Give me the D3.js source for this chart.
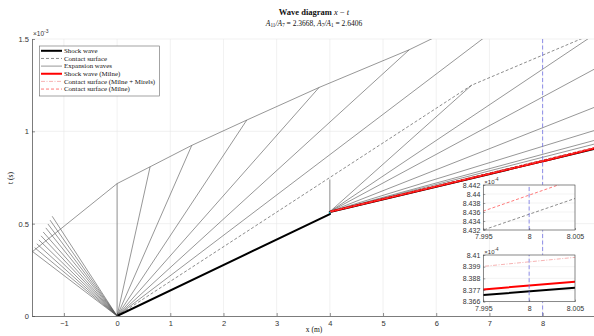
<!DOCTYPE html>
<html>
<head>
<meta charset="utf-8">
<script src="https://cdn.jsdelivr.net/npm/d3@7"></script>
<style>
  body { margin: 0; background: #fff; }
  svg { display: block; }
  .tick text { font-family: "Liberation Sans", Arial, sans-serif; fill: #333; }
  .serif { font-family: "Liberation Serif", "DejaVu Serif", serif; fill: #111; }
</style>
</head>
<body>
<svg id="chart" width="594" height="336"></svg>
<script>
// --- data (x in m, t in 1e-3 s) ---
const xTicks = [-1, 0, 1, 2, 3, 4, 5, 6, 7, 8];
const yTicks = [0, 0.5, 1, 1.5];
const yTickLabels = ["0", "0.5", "1", "1.5"];

// expansion fan going left from the diaphragm, end points of each ray
const leftFanEnds = [
  [-1.59, 0.349], [-1.55, 0.370], [-1.51, 0.391], [-1.47, 0.412], [-1.43, 0.434],
  [-1.39, 0.455], [-1.34, 0.477], [-1.30, 0.498], [-1.26, 0.519], [-1.22, 0.540]
];
// reflected head of the fan
const envelope = [
  [-1.59, 0.349], [0, 0.717], [0.62, 0.808], [1.404, 0.924], [2.438, 1.061],
  [3.797, 1.2375], [5.494, 1.442], [6.05, 1.52]
];
// rays from the origin going right
const rightFanEnds = [
  [0, 0.717], [0.62, 0.808], [1.404, 0.924], [2.438, 1.061], [3.797, 1.2375],
  [5.494, 1.442], [6.9, 1.507]
];
// expansion rays from the area change at x = 4
const areaOrigin = [4, 0.565];
const areaFanEnds = [
  [4, 0.739], [6.667, 1.25], [8.9, 1.51], [9, 1.341], [9, 1.133],
  [9, 1.007], [9, 0.953], [9, 0.933]
];

const shockWave = [[0, 0], [4, 0.552], [4, 0.563], [7.995, 0.83723], [8.005, 0.83792], [9, 0.907]];
const shockMilne = [[4, 0.565], [7.995, 0.83776], [8.005, 0.83848], [9, 0.909]];
const contactMain = [[0, 0], [6.667, 1.25], [8.8, 1.51]];
const contactSecond = [[4, 0.565], [7.995, 0.8432], [8.005, 0.8439], [9, 0.913]];
const contactMilneMirels = [[4, 0.565], [7.995, 0.83993], [8.005, 0.84078], [9, 0.912]];
const contactMilne = [[4, 0.565], [7.995, 0.84362], [8.005, 0.84433], [9, 0.915]];
const probeX = 8;

const legendLabels = [
  "Shock wave", "Contact surface", "Expansion waves", "Shock wave (Milne)",
  "Contact surface (Milne + Mirels)", "Contact surface (Milne)"
];

// inset tick values (t in 1e-4 s)
const insetXTicks = [7.995, 8, 8.005];
const inset1YTicks = [8.432, 8.434, 8.436, 8.438, 8.44, 8.442];
const inset2YTicks = [8.366, 8.377, 8.388, 8.399, 8.41];

// --- styles ---
const styles = {
  exp:    { stroke: "#505050", width: 0.6, dash: null },
  contact:{ stroke: "#404040", width: 0.6, dash: "3,2" },
  shock:  { stroke: "#000", width: 2, dash: null },
  milne:  { stroke: "#ff0000", width: 2, dash: null },
  mirels: { stroke: "#f08080", width: 0.6, dash: "4,1.5,1,1.5" },
  cmilne: { stroke: "#ff2020", width: 0.6, dash: "3,2" },
  probe:  { stroke: "#7474e4", width: 0.8, dash: "4,2.5" }
};

const svg = d3.select("#chart");
const pLeft = 32, pRight = 595.8, pTop = 39, pBottom = 316;
const x = d3.scaleLinear().domain([-1.6, 9]).range([pLeft, pRight]);
const y = d3.scaleLinear().domain([0, 1.5]).range([pBottom, pTop]);

const defs = svg.append("defs");
defs.append("clipPath").attr("id", "clipMain")
  .append("rect").attr("x", pLeft).attr("y", pTop).attr("width", pRight - pLeft).attr("height", pBottom - pTop);

// grid
const grid = svg.append("g").attr("stroke", "#e8e8e8").attr("stroke-width", 0.6);
xTicks.forEach(v => grid.append("line").attr("x1", x(v)).attr("x2", x(v)).attr("y1", pTop).attr("y2", pBottom));
yTicks.slice(1).forEach(v => grid.append("line").attr("x1", pLeft).attr("x2", pRight).attr("y1", y(v)).attr("y2", y(v)));

function drawPath(g, pts, st, sx, sy) {
  const line = d3.line().x(d => sx(d[0])).y(d => sy(d[1]));
  g.append("path").attr("d", line(pts)).attr("fill", "none")
    .attr("stroke", st.stroke).attr("stroke-width", st.width)
    .attr("stroke-dasharray", st.dash);
}

function drawSeries(g, sx, sy, yFactor, withFans) {
  const sc = v => sy(v * yFactor);
  if (withFans) {
    leftFanEnds.forEach(e => drawPath(g, [[0, 0], e], styles.exp, sx, sc));
    drawPath(g, envelope, styles.exp, sx, sc);
    rightFanEnds.forEach(e => drawPath(g, [[0, 0], e], styles.exp, sx, sc));
    areaFanEnds.forEach(e => drawPath(g, [areaOrigin, e], styles.exp, sx, sc));
    drawPath(g, contactMain, styles.contact, sx, sc);
  }
  drawPath(g, contactSecond, styles.contact, sx, sc);
  drawPath(g, shockWave, styles.shock, sx, sc);
  drawPath(g, shockMilne, styles.milne, sx, sc);
  drawPath(g, contactMilneMirels, styles.mirels, sx, sc);
  drawPath(g, contactMilne, styles.cmilne, sx, sc);
  const [t0, t1] = sy.domain();
  drawPath(g, [[probeX, t0 / yFactor], [probeX, t1 / yFactor]], styles.probe, sx, sc);
}

const plot = svg.append("g").attr("clip-path", "url(#clipMain)");
drawSeries(plot, x, y, 1, true);
plot.append("circle").attr("cx", x(areaOrigin[0])).attr("cy", y(areaOrigin[1]) + 1)
  .attr("r", 0.8).attr("fill", "#00d0e0");

// axes
const xAxis = d3.axisBottom(x).tickValues(xTicks).tickSizeInner(-3).tickSizeOuter(0).tickPadding(5)
  .tickFormat(d3.format("d"));
const gx = svg.append("g").attr("transform", `translate(0,${pBottom})`).call(xAxis);
const yAxis = d3.axisLeft(y).tickValues(yTicks).tickSizeInner(-3).tickSizeOuter(0).tickPadding(3)
  .tickFormat((d, i) => yTickLabels[i]);
const gy = svg.append("g").attr("transform", `translate(${pLeft},0)`).call(yAxis);
[gx, gy].forEach(g => {
  g.select(".domain").attr("stroke", "#444").attr("stroke-width", 0.7);
  g.selectAll(".tick line").attr("stroke", "#444").attr("stroke-width", 0.6);
  g.selectAll(".tick text").attr("font-size", 7.5);
});

svg.append("text").attr("x", 33).attr("y", 35.5).attr("font-family", "Liberation Sans, Arial")
  .attr("font-size", 6.5).attr("fill", "#333")
  .html('×10<tspan dy="-3" font-size="5">-3</tspan>');

svg.append("text").attr("class", "serif").attr("x", 314).attr("y", 332)
  .attr("text-anchor", "middle").attr("font-size", 7.5).text("x (m)");
svg.append("text").attr("class", "serif").attr("transform", "translate(13,178) rotate(-90)")
  .attr("text-anchor", "middle").attr("font-size", 7.5).text("t (s)");

// title
const title = svg.append("text").attr("class", "serif").attr("x", 314).attr("y", 14.5)
  .attr("text-anchor", "middle").attr("font-size", 8.5);
title.append("tspan").attr("font-weight", "bold").text("Wave diagram ");
title.append("tspan").attr("font-style", "italic").text("x");
title.append("tspan").text(" − ");
title.append("tspan").attr("font-style", "italic").text("t");

// subtitle: [text, kind] with kind i = italic, s = subscript, n = normal
const subParts = [
  ["A", "i"], ["11", "s"], ["/", "i"], ["A", "i"], ["7", "s"], [" = 2.3668, ", "n"],
  ["A", "i"], ["7", "s"], ["/", "i"], ["A", "i"], ["1", "s"], [" = 2.6406", "n"]
];
const sub = svg.append("text").attr("class", "serif").attr("x", 314).attr("y", 25.5)
  .attr("text-anchor", "middle").attr("font-size", 7.5);
let shifted = false;
subParts.forEach(([txt, kind]) => {
  const ts = sub.append("tspan").text(txt);
  if (kind === "s") { ts.attr("font-size", 5.2).attr("dy", 1.6); shifted = true; }
  else {
    if (shifted) { ts.attr("dy", -1.6); shifted = false; }
    if (kind === "i") ts.attr("font-style", "italic");
  }
});

// legend
const legendStyles = [styles.shock, styles.contact, styles.exp, styles.milne, styles.mirels, styles.cmilne];
const lg = svg.append("g");
lg.append("rect").attr("x", 39.3).attr("y", 46).attr("width", 120).attr("height", 50)
  .attr("fill", "#fff").attr("stroke", "#666").attr("stroke-width", 0.6);
legendLabels.forEach((lab, i) => {
  const yy = 50.8 + i * 7.65;
  const st = legendStyles[i];
  lg.append("line").attr("x1", 41).attr("x2", 62).attr("y1", yy).attr("y2", yy)
    .attr("stroke", st.stroke).attr("stroke-width", st.width).attr("stroke-dasharray", st.dash);
  lg.append("text").attr("class", "serif").attr("x", 64).attr("y", yy + 2.1)
    .attr("font-size", 6.9).attr("fill", "#222").text(lab);
});

// insets
function drawInset(box, yDomain, yTickVals, clipId) {
  const sx = d3.scaleLinear().domain([insetXTicks[0], insetXTicks[2]]).range([box.x0, box.x1]);
  const sy = d3.scaleLinear().domain(yDomain).range([box.y1, box.y0]);
  const g = svg.append("g");
  g.append("rect").attr("x", box.x0).attr("y", box.y0).attr("width", box.x1 - box.x0)
    .attr("height", box.y1 - box.y0).attr("fill", "#fff");
  defs.append("clipPath").attr("id", clipId).append("rect")
    .attr("x", box.x0).attr("y", box.y0).attr("width", box.x1 - box.x0).attr("height", box.y1 - box.y0);
  const gg = g.append("g").attr("stroke", "#e6e6e6").attr("stroke-width", 0.5);
  yTickVals.forEach(v => gg.append("line").attr("x1", box.x0).attr("x2", box.x1).attr("y1", sy(v)).attr("y2", sy(v)));
  insetXTicks.forEach(v => gg.append("line").attr("x1", sx(v)).attr("x2", sx(v)).attr("y1", box.y0).attr("y2", box.y1));
  const inner = g.append("g").attr("clip-path", `url(#${clipId})`);
  drawSeries(inner, sx, sy, 10, false);
  const ax = d3.axisBottom(sx).tickValues(insetXTicks).tickSizeInner(-2).tickSizeOuter(0).tickPadding(4)
    .tickFormat(d3.format("~g"));
  const ay = d3.axisLeft(sy).tickValues(yTickVals).tickSizeInner(-2).tickSizeOuter(0).tickPadding(3)
    .tickFormat(d3.format("~g"));
  const gax = g.append("g").attr("transform", `translate(0,${box.y1})`).call(ax);
  const gay = g.append("g").attr("transform", `translate(${box.x0},0)`).call(ay);
  [gax, gay].forEach(a => {
    a.select(".domain").remove();
    a.selectAll(".tick line").attr("stroke", "#444").attr("stroke-width", 0.5);
    a.selectAll(".tick text").attr("font-size", 7);
  });
  g.append("rect").attr("x", box.x0).attr("y", box.y0).attr("width", box.x1 - box.x0)
    .attr("height", box.y1 - box.y0).attr("fill", "none").attr("stroke", "#444").attr("stroke-width", 0.6);
  g.append("text").attr("x", box.x0 + 1).attr("y", box.y0 - 1.5).attr("font-family", "Liberation Sans, Arial")
    .attr("font-size", 6).attr("fill", "#333")
    .html('×10<tspan dy="-2.5" font-size="4.5">-4</tspan>');
}
drawInset({ x0: 483.3, x1: 575, y0: 185, y1: 230 }, [8.432, 8.442], inset1YTicks, "clipIn1");
drawInset({ x0: 483.3, x1: 575, y0: 255, y1: 301.7 }, [8.366, 8.41], inset2YTicks, "clipIn2");
</script>
</body>
</html>
